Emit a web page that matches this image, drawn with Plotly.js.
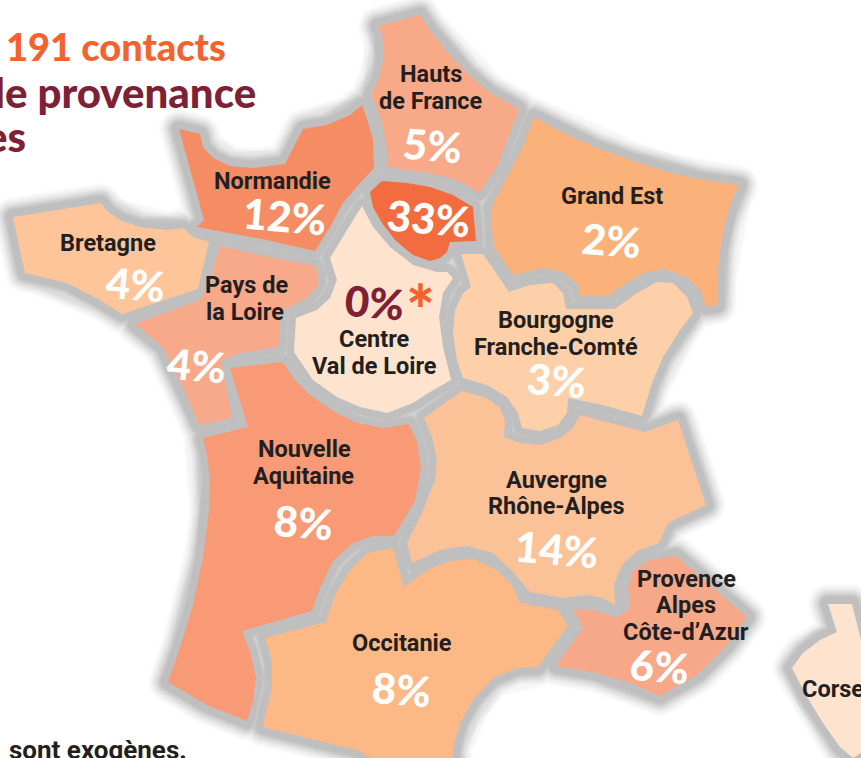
<!DOCTYPE html>
<html>
<head>
<meta charset="utf-8">
<script src="https://cdn.plot.ly/plotly-3.0.1.min.js"></script>
<style>
html,body{margin:0;padding:0;background:#fff;overflow:hidden}
#map{width:861px;height:758px}
.js-line{stroke-linejoin:round;stroke-linecap:round}
</style>
</head>
<body>
<div id="map"></div>
<script>
// Regions and their share of contacts (%)
const regionNames = ["Hauts de France","Île-de-France","Normandie","Bretagne","Pays de la Loire","Centre Val de Loire","Grand Est","Bourgogne Franche-Comté","Nouvelle Aquitaine","Auvergne Rhône-Alpes","Occitanie","Provence Alpes Côte-d'Azur","Corse"];
const regionShares = [5,33,12,4,4,0,2,3,8,14,8,6,null];
const regionColors = ["#f8a988","#f36c3f","#f68c64","#fdc599","#f8a98a","#fee4cf","#fbb27a","#fdd0a9","#f89a75","#fcc297","#fcb986","#f7a888","#fee4cf"];

// Region outlines
const hautsX = [378,420,430,447,467,490,519,510,497,479,467,447,423,387,387,383,378,371,378,383,384,382];
const hautsY = [26,15,30,52,73,93,109,133,167,193,185,177,172,167,150,127,110,95,82,63,47,35];
const idfX = [382,407,430,453,473,476,450,447,440,430,413,395,382,373,370];
const idfY = [181,183,187,195,207,241,242,252,258,261,255,240,223,207,192];
const normandieX = [179,200,203,213,230,253,285,303,327,350,362,368,373,374,360,343,330,315,267,230,197,204];
const normandieY = [129,134,147,158,166,168,164,129,125,115,105,122,140,168,183,203,227,251,240,233,227,220];
const bretagneX = [13,101,107,120,140,167,183,193,209,198,122,100,67,43,25];
const bretagneY = [217,203,211,220,227,230,228,237,242,289,314,300,283,277,273];
const paysX = [220,260,315,319,317,307,280,279,240,221,232,199,192,180,163,135,200,207,213];
const paysY = [246,255,266,275,287,298,312,347,353,360,418,425,408,381,347,324,300,290,270];
const centreX = [362,373,390,413,437,447,453,443,439,443,451,430,413,387,360,337,313,294,296,317,330,337,330,347];
const centreY = [206,227,247,265,272,272,278,293,317,347,380,392,403,413,407,397,380,352,318,310,298,280,258,230];
const grandEstX = [534,563,597,630,670,703,739,732,725,720,717,717,706,700,687,663,643,623,608,580,577,563,543,513,493,491,507,523];
const grandEstY = [117,133,148,160,173,180,185,200,223,250,277,305,307,290,277,269,273,285,296,296,283,272,268,275,245,208,177,147];
const bourgogneX = [461,483,509,530,553,563,566,615,637,657,673,687,693,680,663,652,642,603,568,567,558,540,522,518,507,487,463,457,453,455,463,471];
const bourgogneY = [254,254,292,285,283,293,309,309,293,282,283,297,313,330,357,383,416,405,398,413,425,431,428,413,397,385,378,360,333,310,293,287];
const aquitaineX = [203,248,233,230,283,293,310,333,357,383,409,417,421,415,394,373,353,333,320,312,242,250,256,253,247,207,168,180,193,203,209,210,207];
const aquitaineY = [438,427,378,368,362,378,395,411,423,428,424,441,468,501,536,536,543,561,588,611,631,651,678,701,721,705,682,648,605,558,511,478,455];
const auvergneX = [462,487,500,505,504,520,540,560,573,580,645,678,706,668,659,637,622,614,615,603,587,563,530,513,493,467,440,412,407,422,435,437,432,424];
const auvergneY = [391,398,408,421,437,443,445,438,428,415,432,420,505,523,543,551,565,585,605,598,595,598,592,572,553,546,550,563,543,513,480,460,437,418];
const occitanieX = [265,326,335,350,368,393,404,427,450,473,497,512,520,558,568,538,517,493,473,460,453,452,390,357,307,263,267,272,272,268];
const occitanieY = [638,622,595,570,553,548,587,570,561,559,570,585,603,610,626,667,668,678,700,723,747,770,770,750,738,727,707,687,663,647];
const pacaX = [676,747,727,697,660,630,597,556,583,573,593,617,630,628,633,650];
const pacaY = [556,617,645,675,696,683,673,666,628,609,610,618,608,588,571,560];
const corseX = [828,852,861,880,880,853,840,823,807,792,803,820,837];
const corseY = [604,604,640,640,740,758,747,723,697,668,653,640,632];

const outlineX = [hautsX,idfX,normandieX,bretagneX,paysX,centreX,grandEstX,bourgogneX,aquitaineX,auvergneX,occitanieX,pacaX,corseX];
const outlineY = [hautsY,idfY,normandieY,bretagneY,paysY,centreY,grandEstY,bourgogneY,aquitaineY,auvergneY,occitanieY,pacaY,corseY];

// Where the share of each region is written
const shareX = [432,428,284,135,196,374,611,556,303,556,401,659,null];
const shareY = [145,218,216,284,365,302,240,380,522,549,689,666,null];

// Region names as they are broken on the map
const labelLines = ["Hauts","de France","Normandie","Bretagne","Pays de","la Loire","Centre","Val de Loire","Grand Est","Bourgogne","Franche-Comté","Nouvelle","Aquitaine","Auvergne","Rhône-Alpes","Occitanie","Provence","Alpes","Côte-d’Azur","Corse"];
const labelX = [431,431,272,108,246,245,374,374,612,556,556,304,303,556,556,402,686,686,686,833];
const labelY = [74,101,181,243,285,312,339,366,196,320,347,449,476,480,506,643,579,605,632,689];

// Headline and footnote fragments (cropped by the picture frame)
const headlineLines = ["191 contacts","de provenance","es"];
const footnote = "sont exogènes.";

// Soft grey shadow: stroke widths and colours, widest first
const shadowWidths = [40,38,36,34,32,30,28,26,24,22,20,18,16,14];
const shadowColors = ["#fcfcfc","#f9f9f9","#f6f6f6","#f3f3f3","#efefef","#ebebeb","#e6e6e6","#e1e1e1","#dcdcdc","#d6d6d6","#d0d0d0","#cacaca","#c4c4c4","#bfbfbf"];

function joined(list){
  const out = [];
  list.forEach(a => { out.push(...a, a[0], a[1], null); });
  return out;
}

const traces = [];
shadowWidths.forEach((w,k) => traces.push({
  type:"scatter", mode:"lines", x:joined(outlineX), y:joined(outlineY),
  line:{color:shadowColors[k], width:w}, hoverinfo:"skip", showlegend:false
}));
regionNames.forEach((name,i) => traces.push({
  type:"scatter", mode:"lines", name:name, x:outlineX[i], y:outlineY[i],
  fill:"toself", fillcolor:regionColors[i], line:{width:0, color:regionColors[i]},
  hoverinfo:"name", showlegend:false
}));

const annotations = [];
const base = {showarrow:false, xref:"x", yref:"y", xanchor:"center", yanchor:"middle"};
labelLines.forEach((t,i) => annotations.push(Object.assign({},base,{
  text:t, x:labelX[i], y:labelY[i],
  font:{family:"Roboto, sans-serif", size:23.5, weight:700, color:"#231f20"}
})));
regionShares.forEach((v,i) => {
  if (v === null) return;
  annotations.push(Object.assign({},base,{
    text:v+"%", x:shareX[i], y:shareY[i], textangle:5,
    font:{family:"Lato, sans-serif", size:42, weight:900, color: v===0 ? "#7e2136" : "#ffffff"}
  }));
});
annotations.push(Object.assign({},base,{text:"*", x:420,y:308,font:{family:"Lato, sans-serif",size:68,weight:900,color:"#f4622e"}}));
annotations.push(Object.assign({},base,{text:headlineLines[0],x:228,xanchor:"right",y:46,font:{family:"Lato, sans-serif",size:38,weight:900,color:"#f4622e"}}));
annotations.push(Object.assign({},base,{text:headlineLines[1],x:258,xanchor:"right",y:92,font:{family:"Lato, sans-serif",size:42,weight:900,color:"#7e2136"}}));
annotations.push(Object.assign({},base,{text:headlineLines[2],x:28,xanchor:"right",y:136,font:{family:"Lato, sans-serif",size:42,weight:900,color:"#7e2136"}}));
annotations.push(Object.assign({},base,{text:footnote,x:7,xanchor:"left",y:750,font:{family:"Roboto, sans-serif",size:26,weight:700,color:"#231f20"}}));

const layout = {
  width:861, height:758,
  margin:{l:0,r:0,t:0,b:0},
  paper_bgcolor:"#ffffff", plot_bgcolor:"#ffffff",
  xaxis:{range:[0,861], visible:false, fixedrange:true},
  yaxis:{range:[758,0], visible:false, fixedrange:true},
  annotations:annotations,
  showlegend:false
};
Plotly.newPlot("map", traces, layout, {displayModeBar:false, staticPlot:true});
</script>
</body>
</html>
